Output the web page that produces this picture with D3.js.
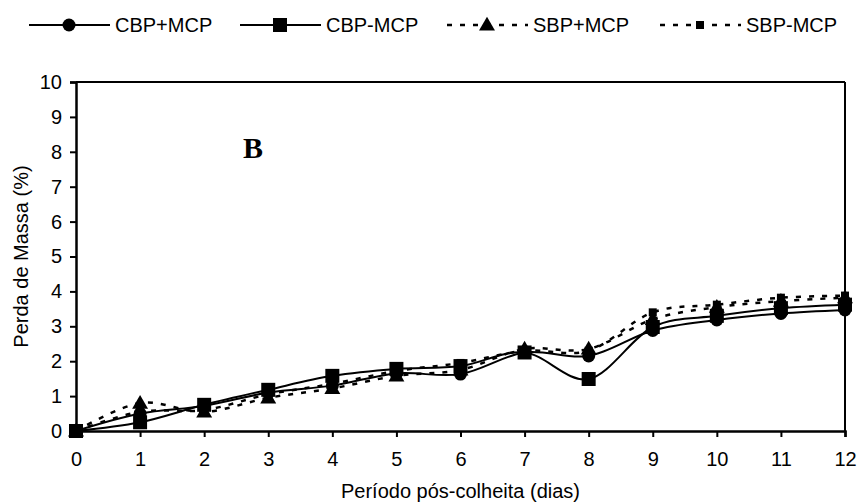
<!DOCTYPE html>
<html><head><meta charset="utf-8">
<script src="https://cdn.jsdelivr.net/npm/d3@7"></script>
<style>body{margin:0;background:#fff;} text{font-family:"Liberation Sans",Arial,sans-serif;}</style>
</head><body>
<svg id="c" width="862" height="504"></svg>
<script>
const days = [0,1,2,3,4,5,6,7,8,9,10,11,12];
const yTicks = [0,1,2,3,4,5,6,7,8,9,10];
const seriesNames = ["CBP+MCP","CBP-MCP","SBP+MCP","SBP-MCP"];
const cbpMcp  = [0,0.50,0.72,1.10,1.30,1.65,1.63,2.25,2.15,2.88,3.18,3.37,3.47];
const cbpNoMcp= [0,0.25,0.75,1.18,1.58,1.78,1.86,2.25,1.49,2.98,3.30,3.52,3.62];
const sbpMcp  = [0,0.80,0.55,0.95,1.22,1.58,1.75,2.35,2.35,3.20,3.55,3.72,3.82];
const sbpNoMcp= [0,0.55,0.60,1.05,1.35,1.72,1.95,2.30,2.30,3.40,3.62,3.82,3.88];
const seriesValues = [cbpMcp, cbpNoMcp, sbpMcp, sbpNoMcp];
const markers = ["circle","square","triangle","smallsquare"];
const dashed = [false,false,true,true];

const svg = d3.select("#c");
const L=76,R=845,T=82,B=431;
const x = d3.scaleLinear().domain([0,12]).range([L,R]);
const y = d3.scaleLinear().domain([0,10]).range([B,T]);
const FS = 20;
const DASH = "5,8";

// frame
svg.append("line").attr("x1",L).attr("x2",R).attr("y1",T).attr("y2",T).attr("stroke","#000").attr("stroke-width",2);
svg.append("line").attr("x1",R).attr("x2",R).attr("y1",T).attr("y2",B).attr("stroke","#000").attr("stroke-width",2);

const ya = svg.append("g").attr("transform",`translate(${L},0)`)
  .call(d3.axisLeft(y).tickValues(yTicks).tickSize(6).tickPadding(8).tickFormat(d3.format("d")));
const xa = svg.append("g").attr("transform",`translate(0,${B})`)
  .call(d3.axisBottom(x).tickValues(days).tickSize(6).tickPadding(15).tickFormat(d3.format("d")));
[ya,xa].forEach(g=>{
  g.select(".domain").attr("stroke","#000").attr("stroke-width",2.5);
  g.selectAll(".tick line").attr("stroke","#000").attr("stroke-width",2);
  g.selectAll(".tick text").attr("font-size",FS).attr("fill","#000").attr("font-family","Liberation Sans, Arial, sans-serif");
});

svg.append("text").attr("transform",`translate(28,${(T+B)/2}) rotate(-90)`).attr("text-anchor","middle")
  .attr("font-size",FS).text("Perda de Massa (%)");
svg.append("text").attr("x",(L+R)/2).attr("y",498).attr("text-anchor","middle")
  .attr("font-size",FS).text("Período pós-colheita (dias)");
svg.append("text").attr("x",243).attr("y",158).attr("font-size",30).attr("font-weight","bold")
  .style("font-family","Liberation Serif, Times New Roman, serif").text("B");

function drawMarker(g,type,cx,cy){
  if(type==="circle") g.append("circle").attr("cx",cx).attr("cy",cy).attr("r",6.5).attr("fill","#000");
  else if(type==="square") g.append("rect").attr("x",cx-7).attr("y",cy-7).attr("width",14).attr("height",14).attr("fill","#000");
  else if(type==="smallsquare") g.append("rect").attr("x",cx-4).attr("y",cy-4).attr("width",8).attr("height",8).attr("fill","#000");
  else g.append("path").attr("d",d3.symbol(d3.symbolTriangle,110)()).attr("transform",`translate(${cx},${cy+1})`).attr("fill","#000");
}

const line = d3.line().x((d,i)=>x(days[i])).y(d=>y(d)).curve(d3.curveCardinal.tension(0));
const order=[3,2,0,1];
order.forEach(k=>{
  svg.append("path").datum(seriesValues[k]).attr("d",line).attr("fill","none").attr("stroke","#000")
    .attr("stroke-width",dashed[k]?2.5:2).attr("stroke-dasharray",dashed[k]?DASH:null);
});
order.forEach(k=>{
  const g=svg.append("g");
  seriesValues[k].forEach((v,i)=>drawMarker(g,markers[k],x(days[i]),y(v)));
});

// legend
const legX=[29,240,447,660];
seriesNames.forEach((n,k)=>{
  const g=svg.append("g");
  const x0=legX[k], yy=25;
  g.append("line").attr("x1",x0).attr("x2",x0+81).attr("y1",yy).attr("y2",yy).attr("stroke","#000")
    .attr("stroke-width",dashed[k]?2.5:2).attr("stroke-dasharray",dashed[k]?DASH:null);
  drawMarker(g,markers[k],x0+40,yy);
  g.append("text").attr("x",x0+86).attr("y",yy+7).attr("font-size",FS).text(n);
});
</script>
</body></html>
